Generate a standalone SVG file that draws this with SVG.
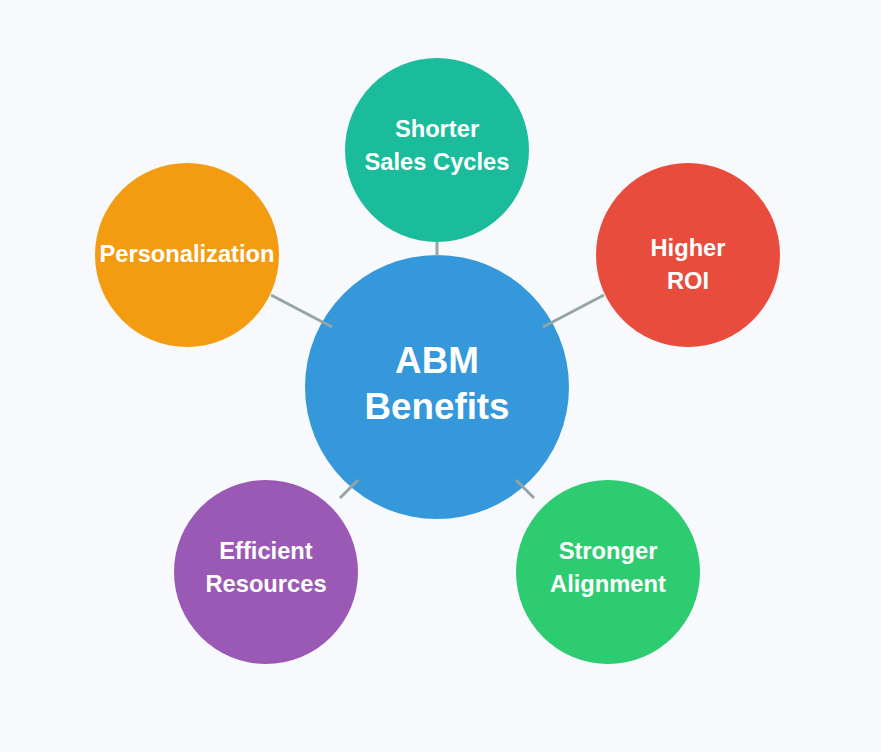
<svg xmlns="http://www.w3.org/2000/svg" width="881" height="752" viewBox="0 0 881 752">
<style>
.bg{fill:#f8f9fc}
.conn line{stroke:#95a5a6;stroke-width:3}
text{font-family:"Liberation Sans",Arial,sans-serif;font-weight:bold;fill:#ffffff;text-anchor:middle}
.s{font-size:23.7px}
.b{font-size:36.8px}
</style>
<rect class="bg" x="0" y="0" width="881" height="752"/>
<g id="node-center">
<circle cx="437" cy="387" r="132" fill="#3498db"/>
<text class="b" x="437" y="373">ABM</text>
<text class="b" x="437" y="419">Benefits</text>
</g>
<g id="node-shorter">
<circle cx="437" cy="150" r="92" fill="#1abc9c"/>
<text class="s" x="437" y="137">Shorter</text>
<text class="s" x="437" y="170">Sales Cycles</text>
</g>
<g id="node-roi">
<circle cx="688" cy="255" r="92" fill="#e74c3c"/>
<text class="s" x="688" y="256">Higher</text>
<text class="s" x="688" y="289">ROI</text>
</g>
<g id="node-personalization">
<circle cx="187" cy="255" r="92" fill="#f39c12"/>
<text class="s" x="187" y="262">Personalization</text>
</g>
<g id="node-efficient">
<circle cx="266" cy="572" r="92" fill="#9b59b6"/>
<text class="s" x="266" y="559">Efficient</text>
<text class="s" x="266" y="592">Resources</text>
</g>
<g id="node-alignment">
<circle cx="608" cy="572" r="92" fill="#2ecc71"/>
<text class="s" x="608" y="559">Stronger</text>
<text class="s" x="608" y="592">Alignment</text>
</g>
<g id="connectors" class="conn">
<line x1="437" y1="242" x2="437" y2="256"/>
<line x1="604" y1="295" x2="543" y2="327"/>
<line x1="271" y1="295" x2="332" y2="327"/>
<line x1="358" y1="480" x2="340" y2="498"/>
<line x1="516" y1="480" x2="534" y2="498"/>
</g>
</svg>
